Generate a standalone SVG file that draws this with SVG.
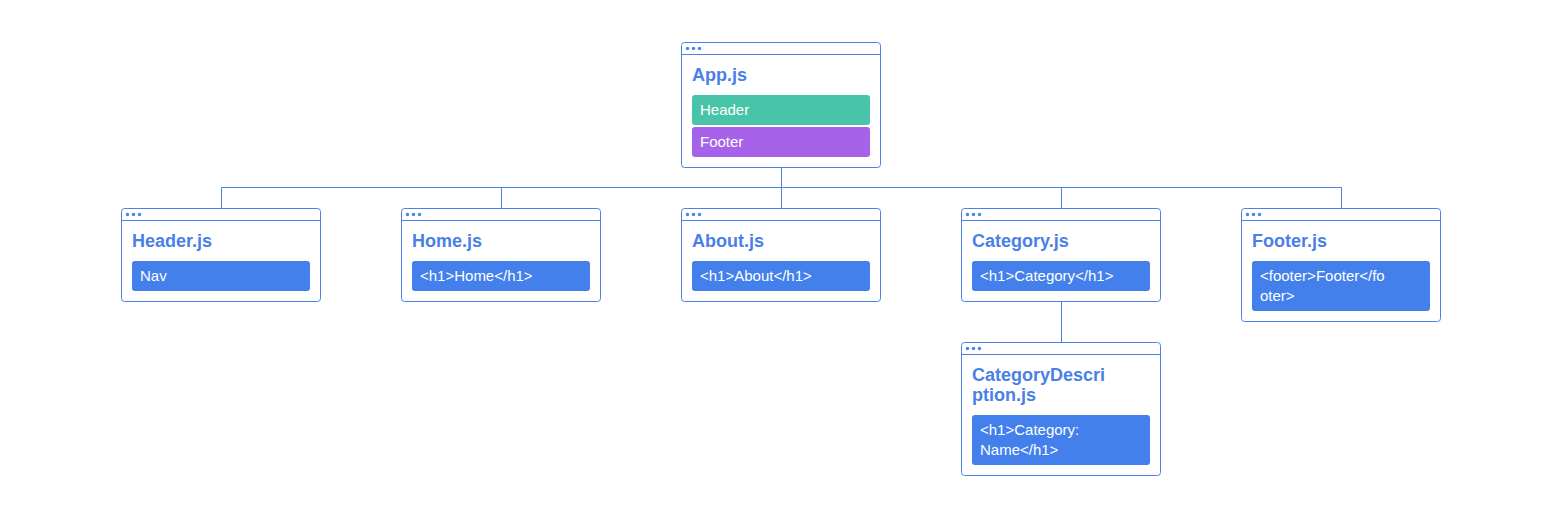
<svg xmlns="http://www.w3.org/2000/svg" width="1560" height="514" viewBox="0 0 1560 514">
<style>
.box{fill:#fff;stroke:#4a82e8;stroke-width:1}
.bar{stroke:#4a82e8;stroke-width:1}
.dot{fill:#4a82e8}
.title{font-family:"Liberation Sans",Arial,sans-serif;font-weight:bold;font-size:18px;fill:#4a7fe6}
.pill{fill:#4380ec}
.green{fill:#48c4a8}
.purple{fill:#a663e9}
.pt{font-family:"Liberation Sans",Arial,sans-serif;font-size:15px;fill:#fff}
.conn{fill:none;stroke:#4a82e8;stroke-width:1}
</style>
<rect width="1560" height="514" fill="#fff"/>
<g id="connectors">
<path class="conn" d="M781.5 167.5V187.5M221.5 187.5H1341.5M221.5 187.5V208.5M501.5 187.5V208.5M781.5 187.5V208.5M1061.5 187.5V208.5M1341.5 187.5V208.5M1061.5 301.5V342.5"/>
</g>
<g id="app">
<rect class="box" x="681.5" y="42.5" width="199" height="125" rx="3"/>
<line class="bar" x1="681.5" y1="54.5" x2="880.5" y2="54.5"/>
<circle class="dot" cx="687.5" cy="48.5" r="1.7"/><circle class="dot" cx="693.5" cy="48.5" r="1.7"/><circle class="dot" cx="699.5" cy="48.5" r="1.7"/>
<text class="title" x="692" y="81">App.js</text>
<rect class="green" x="692" y="95" width="178" height="30" rx="3"/>
<text class="pt" x="700" y="115">Header</text>
<rect class="purple" x="692" y="127" width="178" height="30" rx="3"/>
<text class="pt" x="700" y="147">Footer</text>
</g>
<g id="header">
<rect class="box" x="121.5" y="208.5" width="199" height="93" rx="3"/>
<line class="bar" x1="121.5" y1="220.5" x2="320.5" y2="220.5"/>
<circle class="dot" cx="127.5" cy="214.5" r="1.7"/><circle class="dot" cx="133.5" cy="214.5" r="1.7"/><circle class="dot" cx="139.5" cy="214.5" r="1.7"/>
<text class="title" x="132" y="247">Header.js</text>
<rect class="pill" x="132" y="261" width="178" height="30" rx="3"/>
<text class="pt" x="140" y="281">Nav</text>
</g>
<g id="home">
<rect class="box" x="401.5" y="208.5" width="199" height="93" rx="3"/>
<line class="bar" x1="401.5" y1="220.5" x2="600.5" y2="220.5"/>
<circle class="dot" cx="407.5" cy="214.5" r="1.7"/><circle class="dot" cx="413.5" cy="214.5" r="1.7"/><circle class="dot" cx="419.5" cy="214.5" r="1.7"/>
<text class="title" x="412" y="247">Home.js</text>
<rect class="pill" x="412" y="261" width="178" height="30" rx="3"/>
<text class="pt" x="420" y="281">&lt;h1&gt;Home&lt;/h1&gt;</text>
</g>
<g id="about">
<rect class="box" x="681.5" y="208.5" width="199" height="93" rx="3"/>
<line class="bar" x1="681.5" y1="220.5" x2="880.5" y2="220.5"/>
<circle class="dot" cx="687.5" cy="214.5" r="1.7"/><circle class="dot" cx="693.5" cy="214.5" r="1.7"/><circle class="dot" cx="699.5" cy="214.5" r="1.7"/>
<text class="title" x="692" y="247">About.js</text>
<rect class="pill" x="692" y="261" width="178" height="30" rx="3"/>
<text class="pt" x="700" y="281">&lt;h1&gt;About&lt;/h1&gt;</text>
</g>
<g id="category">
<rect class="box" x="961.5" y="208.5" width="199" height="93" rx="3"/>
<line class="bar" x1="961.5" y1="220.5" x2="1160.5" y2="220.5"/>
<circle class="dot" cx="967.5" cy="214.5" r="1.7"/><circle class="dot" cx="973.5" cy="214.5" r="1.7"/><circle class="dot" cx="979.5" cy="214.5" r="1.7"/>
<text class="title" x="972" y="247">Category.js</text>
<rect class="pill" x="972" y="261" width="178" height="30" rx="3"/>
<text class="pt" x="980" y="281">&lt;h1&gt;Category&lt;/h1&gt;</text>
</g>
<g id="footer">
<rect class="box" x="1241.5" y="208.5" width="199" height="113" rx="3"/>
<line class="bar" x1="1241.5" y1="220.5" x2="1440.5" y2="220.5"/>
<circle class="dot" cx="1247.5" cy="214.5" r="1.7"/><circle class="dot" cx="1253.5" cy="214.5" r="1.7"/><circle class="dot" cx="1259.5" cy="214.5" r="1.7"/>
<text class="title" x="1252" y="247">Footer.js</text>
<rect class="pill" x="1252" y="261" width="178" height="50" rx="3"/>
<text class="pt" x="1260" y="281">&lt;footer&gt;Footer&lt;/fo</text>
<text class="pt" x="1260" y="301">oter&gt;</text>
</g>
<g id="categorydescription">
<rect class="box" x="961.5" y="342.5" width="199" height="133" rx="3"/>
<line class="bar" x1="961.5" y1="354.5" x2="1160.5" y2="354.5"/>
<circle class="dot" cx="967.5" cy="348.5" r="1.7"/><circle class="dot" cx="973.5" cy="348.5" r="1.7"/><circle class="dot" cx="979.5" cy="348.5" r="1.7"/>
<text class="title" x="972" y="381">CategoryDescri</text>
<text class="title" x="972" y="401">ption.js</text>
<rect class="pill" x="972" y="415" width="178" height="50" rx="3"/>
<text class="pt" x="980" y="435">&lt;h1&gt;Category:</text>
<text class="pt" x="980" y="455">Name&lt;/h1&gt;</text>
</g>
</svg>
